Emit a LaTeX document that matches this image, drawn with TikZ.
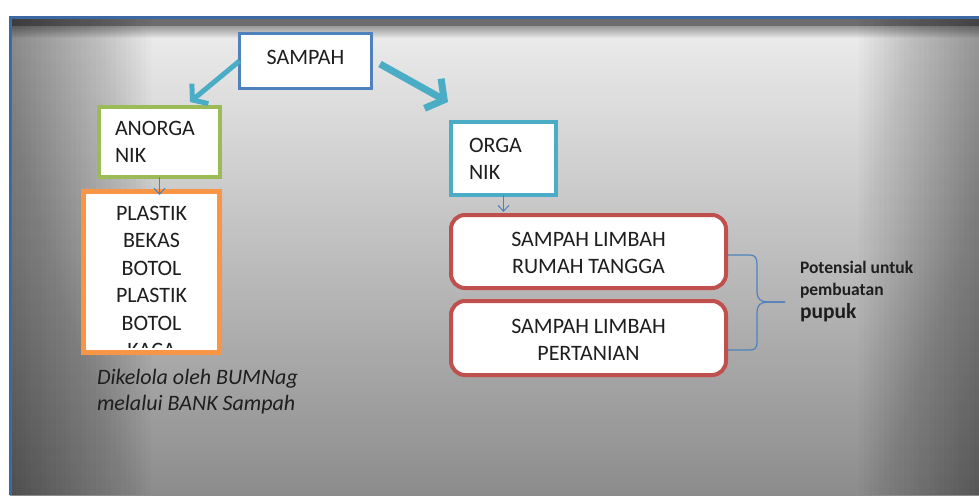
\documentclass[tikz,border=0pt]{standalone}
\usepackage{fontspec}
\setmainfont{Carlito}
\usetikzlibrary{arrows.meta,calc}
\definecolor{accblue}{RGB}{79,129,189}
\definecolor{accteal}{RGB}{75,172,198}
\definecolor{accgreen}{RGB}{155,187,89}
\definecolor{accorange}{RGB}{247,150,70}
\definecolor{accred}{RGB}{192,80,77}
\definecolor{framebl}{RGB}{62,104,164}
\definecolor{bgtop}{RGB}{238,238,238}
\definecolor{bgbot}{RGB}{140,140,140}
\definecolor{txt}{RGB}{30,30,30}
\newcommand\tstrut{\rule{0pt}{18pt}}
\begin{document}
\begin{tikzpicture}[x=1pt,y=-1pt,
  box/.style={draw, fill=white, rectangle, inner sep=0pt, outer sep=0pt, text=txt,
    font=\fontsize{22}{27}\selectfont},
  bigarrow/.style={draw=accteal, line cap=butt},
  smallarrow/.style={draw=accblue, line width=1pt, -{Straight Barb[length=6pt,width=11pt]}},
  brace/.style={draw=accblue, line width=1.2pt},
  plain/.style={inner sep=0pt, outer sep=0pt, anchor=base west, text=txt},
  shadestrip/.style={fill=black, opacity=#1}]
\useasboundingbox (0,0) rectangle (979,495);
\fill[white] (0,0) rectangle (979,495);
% background panel
\shade[top color=bgtop, bottom color=bgbot] (10,18) rectangle (979,495);
\foreach \i in {1,...,28} {\fill[shadestrip=0.015] (11,19) rectangle ({11+5*\i},495);}
\foreach \i in {1,...,24} {\fill[shadestrip=0.016] ({979-5*\i},19) rectangle (979,495);}
\fill[shadestrip=0.3] (11,19) rectangle (979,26);
\foreach \i in {1,...,12} {\fill[shadestrip=0.03] (11,19) rectangle (979,{26+1*\i});}
\draw[framebl, line width=2.5pt] (10.5,495) -- (10.5,17.5) -- (979,17.5);

% boxes
\node[box, draw=accblue, line width=3pt, minimum width=132pt, minimum height=55pt,
  text height=14pt, text depth=8pt] (sampah) at (305.5,61) {SAMPAH};
\node[box, draw=accgreen, line width=4pt, minimum width=121pt, minimum height=70pt,
  text width=89pt, align=left] (anorg) at (159.5,142) {ANORGA\\NIK};
\node[box, draw=accorange, line width=5pt, minimum width=136pt, minimum height=161pt] (plast) at (151.5,272) {};
\begin{scope}
  \clip (plast.north west) rectangle ([yshift=5pt]plast.south east);
  \node[inner sep=0pt, anchor=north, align=center, text=txt, font=\fontsize{22}{27.5}\selectfont]
    (plasttext) at ([yshift=-14.5pt]plast.north) {PLASTIK\\BEKAS\\BOTOL\\PLASTIK\\BOTOL\\KACA};
\end{scope}
\draw[accorange, line width=5pt] (plast.north west) rectangle (plast.south east);

\node[box, draw=accteal, line width=4pt, minimum width=105pt, minimum height=73pt,
  text width=69pt, align=left] (org) at (503.5,158.5) {ORGA\\NIK};
\node[box, draw=accred, line width=4pt, rounded corners=14pt, minimum width=275pt,
  minimum height=73pt, align=center] (lim1) at (588.5,251.5) {\tstrut SAMPAH LIMBAH\\RUMAH TANGGA};
\node[box, draw=accred, line width=4pt, rounded corners=14pt, minimum width=275pt,
  minimum height=74pt, align=center] (lim2) at (588.5,338) {\tstrut SAMPAH LIMBAH\\PERTANIAN};

% texts
\node[plain, font=\fontsize{22}{26}\selectfont\itshape] (note1) at (97,384) {Dikelola oleh BUMNag};
\node[plain, font=\fontsize{22}{26}\selectfont\itshape] (note2) at (97,410) {melalui BANK Sampah};
\node[plain, font=\fontsize{17.5}{22}\selectfont\bfseries] (pot1) at (800,273) {Potensial untuk};
\node[plain, font=\fontsize{17.5}{22}\selectfont\bfseries] (pot2) at (800,295) {pembuatan};
\node[plain, font=\fontsize{21.5}{26}\selectfont\bfseries] (pot3) at (800,318) {pupuk};

% arrows
\draw[bigarrow, line width=5pt, -{Straight Barb[length=10pt,width=26pt]}]
  (sampah.west) -- ([xshift=30.5pt,yshift=5pt]anorg.north);
\draw[bigarrow, line width=7pt, -{Straight Barb[length=13pt,width=34pt]}]
  ([xshift=8.5pt,yshift=-3pt]sampah.east) -- ([xshift=-3pt,yshift=20pt]org.north west);
\draw[smallarrow] (anorg.south) -- ([yshift=-3.5pt]anorg.south |- plast.north);
\draw[smallarrow] (org.south) -- ([yshift=3pt]org.south |- lim1.north);

% brace
\coordinate (bt) at ([xshift=2pt,yshift=-3.5pt]lim1.east);
\coordinate (bb) at ([xshift=2pt,yshift=-12pt]lim2.east);
\coordinate (btip) at (785,302);
\draw[brace] (bt) -- (750,255) .. controls (755,255) and (757,258) .. (757,264) -- (757,292)
  .. controls (757,299) and (761,302) .. (768,302) -- (btip);
\draw[brace] (btip) -- (768,302) .. controls (761,302) and (757,305) .. (757,312) -- (757,342)
  .. controls (757,348) and (755,350) .. (750,350) -- (bb);
\end{tikzpicture}
\end{document}
